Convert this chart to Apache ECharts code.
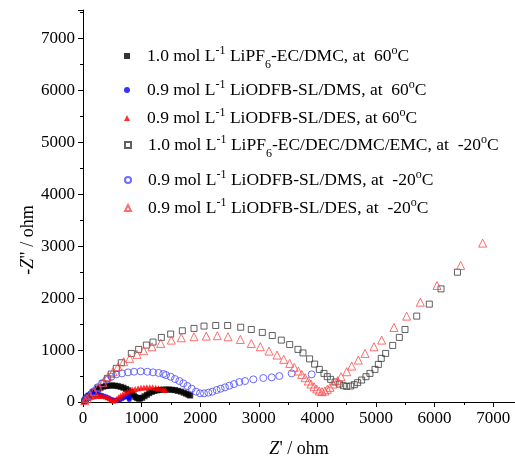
<!DOCTYPE html>
<html>
<head>
<meta charset="utf-8">
<script src="https://cdn.jsdelivr.net/npm/echarts@6/dist/echarts.min.js"></script>
<style>html,body{margin:0;padding:0;background:#fff;}#c{width:515px;height:458px;}</style>
</head>
<body>
<div id="c"></div>
<script>
// ---- data (Z' / ohm, -Z'' / ohm) ----
var seriesNames = [
  "1.0 mol L-1 LiPF6-EC/DMC, at 60oC",
  "0.9 mol L-1 LiODFB-SL/DMS, at 60oC",
  "0.9 mol L-1 LiODFB-SL/DES, at 60oC",
  "1.0 mol L-1 LiPF6-EC/DEC/DMC/EMC, at -20oC",
  "0.9 mol L-1 LiODFB-SL/DMS, at -20oC",
  "0.9 mol L-1 LiODFB-SL/DES, at -20oC"
];
var legendLabels = [
  "{sp|}1.0 mol L{sup|-1} LiPF{sub|6}-EC/DMC, at  60{sup|o}C",
  "{sp|}0.9 mol L{sup|-1} LiODFB-SL/DMS, at  60{sup|o}C",
  "{sp|}0.9 mol L{sup|-1} LiODFB-SL/DES, at 60{sup|o}C",
  "{sp|}1.0 mol L{sup|-1} LiPF{sub|6}-EC/DEC/DMC/EMC, at  -20{sup|o}C",
  "{sp|}0.9 mol L{sup|-1} LiODFB-SL/DMS, at  -20{sup|o}C",
  "{sp|}0.9 mol L{sup|-1} LiODFB-SL/DES, at  -20{sup|o}C"
];
var xTicks = [0, 1000, 2000, 3000, 4000, 5000, 6000, 7000];
var yTicks = [0, 1000, 2000, 3000, 4000, 5000, 6000, 7000];

var lipf6Hot = [[20,15],[45,45],[75,80],[105,115],[140,150],[175,185],[215,220],[255,250],[300,275],[345,295],[395,308],[445,315],[495,318],[545,315],[595,305],[645,292],[690,275],[735,252],[775,225],[810,195],[840,160],[868,125],[895,95],[925,75],[955,65],[975,68],[1010,82],[1050,110],[1090,140],[1130,170],[1175,195],[1220,212],[1270,225],[1320,233],[1370,238],[1420,240],[1470,240],[1520,236],[1570,228],[1620,215],[1670,200],[1720,180],[1760,160],[1800,140],[1830,125]];
var dmsHot = [[10,20],[30,60],[55,100],[85,135],[120,158],[160,170],[200,170],[240,160],[280,145],[320,130],[360,112],[400,95],[440,75],[480,55],[515,40],[550,32],[590,32],[630,45],[665,65],[700,85],[735,100],[760,105],[775,95],[785,70],[790,50]];
var desHot = [[10,10],[30,30],[55,55],[80,75],[110,90],[145,100],[185,110],[225,118],[265,122],[305,122],[345,118],[385,108],[420,92],[455,72],[485,50],[515,30],[545,35],[575,60],[605,90],[640,120],[680,150],[720,175],[760,200],[800,220],[845,238],[890,252],[940,265],[990,275],[1040,280],[1090,283],[1140,284],[1190,282],[1240,276],[1290,266],[1340,255],[1380,243],[1405,232]];
var lipf6Cold = [[40,35],[86,90],[170,179],[256,269],[342,359],[415,455],[483,538],[568,648],[654,756],[825,936],[950,1013],[1081,1096],[1195,1154],[1337,1244],[1496,1308],[1695,1372],[1894,1417],[2065,1462],[2265,1474],[2468,1474],[2691,1440],[2872,1397],[3060,1340],[3230,1280],[3384,1192],[3527,1106],[3668,1013],[3754,945],[3867,830],[3953,730],[4033,628],[4112,551],[4169,487],[4226,436],[4301,385],[4374,346],[4442,314],[4500,301],[4568,308],[4630,333],[4687,372],[4755,423],[4829,487],[4897,551],[4983,628],[5040,724],[5090,840],[5165,936],[5285,1090],[5398,1244],[5495,1397],[5695,1654],[5910,1885],[6110,2179],[6390,2500]];
var dmsCold = [[40,50],[85,115],[171,199],[245,282],[324,359],[398,423],[483,487],[569,532],[666,551],[768,571],[870,583],[984,590],[1098,583],[1195,571],[1290,560],[1370,540],[1416,519],[1496,487],[1570,442],[1644,404],[1712,359],[1781,308],[1855,256],[1928,199],[1997,167],[2065,167],[2139,180],[2207,199],[2281,231],[2349,256],[2423,282],[2497,314],[2577,346],[2668,385],[2765,404],[2907,436],[3077,462],[3220,474],[3350,500],[3561,551],[3902,532]];
var desCold = [[30,25],[70,70],[120,130],[185,200],[260,285],[342,372],[426,487],[512,583],[598,679],[694,776],[796,840],[922,917],[1035,987],[1178,1064],[1326,1128],[1507,1192],[1677,1237],[1894,1256],[2104,1269],[2292,1276],[2475,1256],[2685,1205],[2872,1128],[3026,1064],[3174,981],[3311,904],[3425,821],[3527,744],[3606,667],[3675,596],[3732,532],[3789,468],[3845,404],[3891,346],[3942,295],[3988,250],[4033,212],[4079,199],[4129,212],[4169,244],[4215,282],[4272,346],[4346,410],[4403,487],[4500,583],[4585,692],[4698,808],[4813,936],[4966,1064],[5097,1192],[5307,1436],[5523,1654],[5757,1923],[6041,2244],[6445,2628],[6820,3060]];

// ---- build ----
var F = "'Liberation Serif','Times New Roman',serif";
var datasets = [lipf6Hot, dmsHot, desHot, lipf6Cold, dmsCold, desCold];
var symbols = ['rect', 'circle', 'triangle', 'rect', 'circle', 'triangle'];
var sizes = [6, 5, 6, 6, 7, 8];
var filled = [true, true, true, false, false, false];
var colors = ['#000000', '#0000ff', '#ff0000', '#3a3a3a', '#4848ff', '#ff4848'];
var legendTops = [40, 74, 102, 129, 164, 192];

var series = datasets.map(function (d, i) {
  return {
    name: seriesNames[i],
    type: 'scatter',
    data: d,
    symbol: symbols[i],
    symbolSize: sizes[i],
    itemStyle: filled[i] ? { color: colors[i] } :
      { color: 'rgba(255,255,255,0)', borderColor: colors[i], borderWidth: 1 },
    emphasis: { disabled: true },
    animation: false
  };
});

var richStyles = {
  sp: { width: 12 },
  sup: { fontSize: 12, lineHeight: 12, verticalAlign: 'top', fontFamily: F, color: '#000' },
  sub: { fontSize: 12, lineHeight: 12, verticalAlign: 'top', padding: [14, 0, 0, 0], fontFamily: F, color: '#000' }
};

var legends = seriesNames.map(function (n, i) {
  return {
    data: [n],
    left: 119,
    top: legendTops[i],
    orient: 'vertical',
    itemWidth: 6,
    itemHeight: 6,
    selectedMode: false,
    formatter: function () { return legendLabels[i]; },
    textStyle: { fontFamily: F, fontSize: 17.5, lineHeight: 22, color: '#000', rich: richStyles }
  };
});

var axisCommon = {
  type: 'value',
  min: 0,
  interval: 1000,
  axisLine: { show: true, onZero: false, lineStyle: { color: '#000', width: 1 } },
  axisTick: { show: true, inside: false, length: 5, lineStyle: { color: '#000' } },
  minorTick: { show: true, splitNumber: 2, length: 3, lineStyle: { color: '#000' } },
  splitLine: { show: false },
  minorSplitLine: { show: false },
  axisLabel: { fontFamily: F, fontSize: 17, color: '#000', margin: 8, showMaxLabel: false,
    formatter: function (v) { return xTicks.indexOf(v) >= 0 || yTicks.indexOf(v) >= 0 ? String(v) : ''; } },
  nameLocation: 'middle',
  nameMoveOverlap: false,
  nameTextStyle: { fontFamily: F, fontSize: 18, color: '#000', rich: { i: { fontStyle: 'italic', fontFamily: F, fontSize: 18, color: '#000' } } }
};

var chart = echarts.init(document.getElementById('c'), null, { renderer: 'canvas' });
chart.setOption({
  backgroundColor: '#fff',
  animation: false,
  grid: { left: 83, right: 0, top: 10, bottom: 56, containLabel: false, outerBoundsMode: 'none' },
  xAxis: Object.assign({}, axisCommon, { max: 7372, name: "{i|Z}' / ohm", nameGap: 38 }),
  yAxis: Object.assign({}, axisCommon, { max: 7550, name: '-{i|Z}" / ohm', nameGap: 46,
    nameTextStyle: Object.assign({}, axisCommon.nameTextStyle, { padding: [0, 68, 0, 0] }) }),
  legend: legends,
  series: series
});
</script>
</body>
</html>
